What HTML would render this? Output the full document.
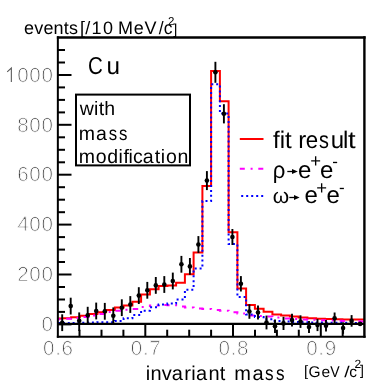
<!DOCTYPE html>
<html><head><meta charset="utf-8"><title>plot</title>
<style>
html,body{margin:0;padding:0;background:#fff;}
body{width:382px;height:388px;overflow:hidden;font-family:"Liberation Sans",sans-serif;}
svg{display:block;font-family:"Liberation Sans",sans-serif;}
.ax text{font-size:20.6px;fill:#3c3c3c;stroke:#fff;stroke-width:0.9px;letter-spacing:0.65px;}
.thin{stroke:#fff;stroke-width:0.5px;}
svg text{text-rendering:geometricPrecision;}
.bk text{fill:#000;}
</style></head><body>
<svg style="will-change:transform;filter:blur(0.3px)" width="382" height="388" viewBox="0 0 382 388">
<defs><filter id="idf" x="0" y="0" width="382" height="388" filterUnits="userSpaceOnUse"><feOffset dx="0" dy="0"/></filter></defs>
<rect width="382" height="388" fill="#fff"/>
<!-- curves -->
<path d="M58.0 318.6 L62.4 318.6 L62.4 318.2 L71.1 318.2 L71.1 317.2 L79.9 317.2 L79.9 315.8 L88.6 315.8 L88.6 314.0 L97.4 314.0 L97.4 312.2 L106.1 312.2 L106.1 310.1 L114.9 310.1 L114.9 307.4 L123.6 307.4 L123.6 305.4 L132.4 305.4 L132.4 301.7 L141.1 301.7 L141.1 294.4 L149.9 294.4 L149.9 289.3 L158.6 289.3 L158.6 286.0 L167.4 286.0 L167.4 285.5 L176.1 285.5 L176.1 282.8 L184.9 282.8 L184.9 274.3 L193.6 274.3 L193.6 252.5 L202.4 252.5 L202.4 186.1 L211.1 186.1 L211.1 70.9 L219.9 70.9 L219.9 101.3 L228.6 101.3 L228.6 232.3 L237.4 232.3 L237.4 288.4 L246.1 288.4 L246.1 305.1 L254.9 305.1 L254.9 308.8 L263.6 308.8 L263.6 311.7 L272.4 311.7 L272.4 314.5 L281.1 314.5 L281.1 315.6 L289.9 315.6 L289.9 316.6 L298.6 316.6 L298.6 317.5 L307.4 317.5 L307.4 318.2 L316.1 318.2 L316.1 318.8 L324.9 318.8 L324.9 319.1 L333.6 319.1 L333.6 319.3 L342.4 319.3 L342.4 319.4 L351.1 319.4 L351.1 319.5 L359.9 319.5 L359.9 319.5 L364.0 319.5" fill="none" stroke="#ff0000" stroke-width="2" stroke-linejoin="miter"/>
<path d="M58.0 319.2 L62.4 319.2 L62.4 318.8 L71.1 318.8 L71.1 318.1 L79.9 318.1 L79.9 317.0 L88.6 317.0 L88.6 315.6 L97.4 315.6 L97.4 313.9 L106.1 313.9 L106.1 312.1 L114.9 312.1 L114.9 310.7 L123.6 310.7 L123.6 309.8 L132.4 309.8 L132.4 308.9 L141.1 308.9 L141.1 306.9 L149.9 306.9" fill="none" stroke="#ff00ff" stroke-width="2" stroke-dasharray="5.5 5.5 2 6.1" stroke-dashoffset="10.5"/>
<path d="M149.9 306.9 L149.9 305.6 L158.6 305.6 L158.6 305.1 L167.4 305.1 L167.4 305.3 L176.1 305.3 L176.1 306.5 L184.9 306.5 L184.9 307.6 L193.6 307.6 L193.6 308.6 L202.4 308.6 L202.4 309.0 L211.1 309.0 L211.1 309.9 L219.9 309.9 L219.9 310.8 L228.6 310.8 L228.6 312.3 L237.4 312.3 L237.4 313.6 L246.1 313.6 L246.1 315.6 L254.9 315.6 L254.9 316.1 L263.6 316.1 L263.6 316.6 L272.4 316.6 L272.4 317.6 L281.1 317.6 L281.1 318.4 L289.9 318.4 L289.9 319.0 L298.6 319.0 L298.6 319.4 L307.4 319.4 L307.4 319.8 L316.1 319.8 L316.1 320.2 L324.9 320.2 L324.9 320.5 L333.6 320.5 L333.6 320.8 L342.4 320.8 L342.4 321.0 L351.1 321.0 L351.1 321.2 L359.9 321.2 L359.9 321.4 L364.0 321.4" fill="none" stroke="#ff00ff" stroke-width="2" stroke-dasharray="5.5 5.5 2 6.1" stroke-dashoffset="2.9"/>
<path d="M58.0 323.0 L62.4 323.0 L62.4 323.0 L71.1 323.0 L71.1 322.9 L79.9 322.9 L79.9 322.8 L88.6 322.8 L88.6 322.6 L97.4 322.6 L97.4 322.3 L106.1 322.3 L106.1 322.2 L114.9 322.2 L114.9 320.9 L123.6 320.9 L123.6 318.3 L132.4 318.3 L132.4 315.0 L141.1 315.0 L141.1 310.7 L149.9 310.7 L149.9 307.3 L158.6 307.3 L158.6 304.5 L167.4 304.5 L167.4 303.5 L176.1 303.5 L176.1 299.5 L184.9 299.5 L184.9 289.7 L193.6 289.7 L193.6 268.6 L202.4 268.6 L202.4 201.0 L211.1 201.0 L211.1 84.3 L219.9 84.3 L219.9 113.5 L228.6 113.5 L228.6 244.0 L237.4 244.0 L237.4 297.0 L246.1 297.0 L246.1 314.5 L254.9 314.5 L254.9 317.0 L263.6 317.0 L263.6 319.3 L272.4 319.3 L272.4 320.9 L281.1 320.9 L281.1 321.6 L289.9 321.6 L289.9 322.0 L298.6 322.0 L298.6 322.3 L307.4 322.3 L307.4 322.5 L316.1 322.5 L316.1 322.6 L324.9 322.6 L324.9 322.7 L333.6 322.7 L333.6 322.8 L342.4 322.8 L342.4 322.8 L351.1 322.8 L351.1 322.9 L359.9 322.9 L359.9 322.9 L364.0 322.9" fill="none" stroke="#0000ff" stroke-width="2" stroke-dasharray="2 2.9"/>
<!-- zero line -->
<line x1="58" y1="323.85" x2="364" y2="323.85" stroke="#000" stroke-width="2.2"/>
<!-- frame -->
<path d="M56.85 37.55H365.6" stroke="#000" stroke-width="2.4" fill="none"/><path d="M364.4 36.35V337.75" stroke="#000" stroke-width="2.4" fill="none"/><path d="M57.85 36.35V337.75" stroke="#000" stroke-width="2" fill="none"/><path d="M56.85 336.7H365.6" stroke="#000" stroke-width="2.1" fill="none"/>
<g stroke="#000" stroke-width="2"><line x1="58" y1="324.4" x2="71.5" y2="324.4"/><line x1="58" y1="311.9" x2="65.0" y2="311.9"/><line x1="58" y1="299.5" x2="65.0" y2="299.5"/><line x1="58" y1="287.0" x2="65.0" y2="287.0"/><line x1="58" y1="274.5" x2="71.5" y2="274.5"/><line x1="58" y1="262.0" x2="65.0" y2="262.0"/><line x1="58" y1="249.6" x2="65.0" y2="249.6"/><line x1="58" y1="237.1" x2="65.0" y2="237.1"/><line x1="58" y1="224.6" x2="71.5" y2="224.6"/><line x1="58" y1="212.2" x2="65.0" y2="212.2"/><line x1="58" y1="199.7" x2="65.0" y2="199.7"/><line x1="58" y1="187.2" x2="65.0" y2="187.2"/><line x1="58" y1="174.7" x2="71.5" y2="174.7"/><line x1="58" y1="162.3" x2="65.0" y2="162.3"/><line x1="58" y1="149.8" x2="65.0" y2="149.8"/><line x1="58" y1="137.3" x2="65.0" y2="137.3"/><line x1="58" y1="124.8" x2="71.5" y2="124.8"/><line x1="58" y1="112.4" x2="65.0" y2="112.4"/><line x1="58" y1="99.9" x2="65.0" y2="99.9"/><line x1="58" y1="87.4" x2="65.0" y2="87.4"/><line x1="58" y1="75.0" x2="71.5" y2="75.0"/><line x1="58" y1="62.5" x2="65.0" y2="62.5"/><line x1="58" y1="50.0" x2="65.0" y2="50.0"/><line x1="79.5" y1="336.7" x2="79.5" y2="329.7"/><line x1="101.5" y1="336.7" x2="101.5" y2="329.7"/><line x1="123.4" y1="336.7" x2="123.4" y2="329.7"/><line x1="145.3" y1="336.7" x2="145.3" y2="323.2"/><line x1="167.2" y1="336.7" x2="167.2" y2="329.7"/><line x1="189.2" y1="336.7" x2="189.2" y2="329.7"/><line x1="211.1" y1="336.7" x2="211.1" y2="329.7"/><line x1="233.0" y1="336.7" x2="233.0" y2="323.2"/><line x1="255.0" y1="336.7" x2="255.0" y2="329.7"/><line x1="276.9" y1="336.7" x2="276.9" y2="329.7"/><line x1="298.8" y1="336.7" x2="298.8" y2="329.7"/><line x1="320.8" y1="336.7" x2="320.8" y2="323.2"/><line x1="342.7" y1="336.7" x2="342.7" y2="329.7"/></g>
<!-- data -->
<g stroke="#000" stroke-width="1.9" fill="#000"><line x1="62.2" y1="314.3" x2="62.2" y2="331.1"/><circle cx="62.2" cy="322.7" r="2.3" stroke="none"/><line x1="70.7" y1="297.7" x2="70.7" y2="314.5"/><circle cx="70.7" cy="306.1" r="2.3" stroke="none"/><line x1="79.2" y1="312.4" x2="79.2" y2="331.0"/><circle cx="79.2" cy="320.8" r="2.3" stroke="none"/><line x1="87.7" y1="306.8" x2="87.7" y2="323.6"/><circle cx="87.7" cy="315.2" r="2.3" stroke="none"/><line x1="96.2" y1="302.6" x2="96.2" y2="319.4"/><circle cx="96.2" cy="311.0" r="2.3" stroke="none"/><line x1="104.8" y1="302.9" x2="104.8" y2="319.7"/><circle cx="104.8" cy="311.3" r="2.3" stroke="none"/><line x1="113.3" y1="307.4" x2="113.3" y2="324.2"/><circle cx="113.3" cy="315.8" r="2.3" stroke="none"/><line x1="121.8" y1="299.3" x2="121.8" y2="316.1"/><circle cx="121.8" cy="307.7" r="2.3" stroke="none"/><line x1="130.3" y1="296.1" x2="130.3" y2="312.9"/><circle cx="130.3" cy="304.5" r="2.3" stroke="none"/><line x1="138.8" y1="287.2" x2="138.8" y2="304.0"/><circle cx="138.8" cy="295.6" r="2.3" stroke="none"/><line x1="147.3" y1="281.9" x2="147.3" y2="298.7"/><circle cx="147.3" cy="290.3" r="2.3" stroke="none"/><line x1="155.8" y1="277.0" x2="155.8" y2="293.8"/><circle cx="155.8" cy="285.4" r="2.3" stroke="none"/><line x1="164.3" y1="276.1" x2="164.3" y2="292.9"/><circle cx="164.3" cy="284.5" r="2.3" stroke="none"/><line x1="172.8" y1="272.6" x2="172.8" y2="289.4"/><circle cx="172.8" cy="281.0" r="2.3" stroke="none"/><line x1="181.4" y1="255.9" x2="181.4" y2="272.7"/><circle cx="181.4" cy="264.3" r="2.3" stroke="none"/><line x1="189.9" y1="258.0" x2="189.9" y2="274.8"/><circle cx="189.9" cy="266.4" r="2.3" stroke="none"/><line x1="198.4" y1="236.1" x2="198.4" y2="252.9"/><circle cx="198.4" cy="244.5" r="2.3" stroke="none"/><line x1="206.9" y1="171.1" x2="206.9" y2="190.1"/><circle cx="206.9" cy="180.6" r="2.3" stroke="none"/><line x1="215.4" y1="61.8" x2="215.4" y2="82.8"/><circle cx="215.4" cy="72.3" r="2.3" stroke="none"/><line x1="223.9" y1="104.2" x2="223.9" y2="123.4"/><circle cx="223.9" cy="113.8" r="2.3" stroke="none"/><line x1="232.4" y1="229.0" x2="232.4" y2="245.0"/><circle cx="232.4" cy="237.0" r="2.3" stroke="none"/><line x1="240.9" y1="276.1" x2="240.9" y2="291.5"/><circle cx="240.9" cy="283.8" r="2.3" stroke="none"/><line x1="249.4" y1="304.2" x2="249.4" y2="318.8"/><circle cx="249.4" cy="311.5" r="2.3" stroke="none"/><line x1="258.0" y1="305.4" x2="258.0" y2="319.6"/><circle cx="258.0" cy="312.5" r="2.3" stroke="none"/><line x1="266.5" y1="315.6" x2="266.5" y2="329.4"/><circle cx="266.5" cy="322.5" r="2.3" stroke="none"/><line x1="275.0" y1="319.5" x2="275.0" y2="333.1"/><circle cx="275.0" cy="326.3" r="2.3" stroke="none"/><line x1="283.5" y1="316.8" x2="283.5" y2="330.0"/><circle cx="283.5" cy="323.4" r="2.3" stroke="none"/><line x1="292.0" y1="313.7" x2="292.0" y2="326.5"/><circle cx="292.0" cy="320.1" r="2.3" stroke="none"/><line x1="300.5" y1="315.3" x2="300.5" y2="327.9"/><circle cx="300.5" cy="321.6" r="2.3" stroke="none"/><line x1="309.0" y1="320.9" x2="309.0" y2="333.1"/><circle cx="309.0" cy="327.0" r="2.3" stroke="none"/><line x1="317.5" y1="319.1" x2="317.5" y2="331.1"/><circle cx="317.5" cy="325.1" r="2.3" stroke="none"/><line x1="326.0" y1="319.9" x2="326.0" y2="331.5"/><circle cx="326.0" cy="325.7" r="2.3" stroke="none"/><line x1="334.6" y1="312.5" x2="334.6" y2="323.9"/><circle cx="334.6" cy="318.2" r="2.3" stroke="none"/><line x1="343.1" y1="322.4" x2="343.1" y2="333.8"/><circle cx="343.1" cy="328.1" r="2.3" stroke="none"/><line x1="351.6" y1="315.1" x2="351.6" y2="326.7"/><circle cx="351.6" cy="320.9" r="2.3" stroke="none"/><circle cx="360.1" cy="323.9" r="2.3" stroke="none"/></g>
<!-- legend -->
<line x1="239.8" y1="139" x2="263.5" y2="139" stroke="#ff0000" stroke-width="2"/>
<line x1="239.8" y1="168.8" x2="263.4" y2="168.8" stroke="#ff00ff" stroke-width="2" stroke-dasharray="5 5.8 2 5.7"/>
<line x1="241.2" y1="196.1" x2="263.4" y2="196.1" stroke="#0000ff" stroke-width="2" stroke-dasharray="2 3"/>
<g class="bk" filter="url(#idf)">
<text x="273" y="148.2" font-size="24">fit r</text><text x="305.7" y="148.2" font-size="24" textLength="12.4" lengthAdjust="spacingAndGlyphs">e</text><text x="319" y="148.2" font-size="24" textLength="9.9" lengthAdjust="spacingAndGlyphs">s</text><text x="330.7" y="148.2" font-size="24">u</text><text x="343" y="148.2" font-size="24">l</text><text x="348.1" y="148.2" font-size="24" textLength="7.6" lengthAdjust="spacingAndGlyphs">t</text>
<text x="272.8" y="177.7" font-size="23.5" textLength="12.6" lengthAdjust="spacingAndGlyphs">ρ</text>
<text x="298" y="177.7" font-size="24">e</text>
<text x="320" y="177.7" font-size="24">e</text>
<text x="310.2" y="166.9" font-size="18.5">+</text>
<text x="332.3" y="166.9" font-size="17">-</text>
<path d="M287.3 171.5H293" stroke="#000" stroke-width="1.3" fill="none"/><path d="M292 168.9L297.8 171.5L292 174.1Z" fill="#000"/>
<text x="272.8" y="203.1" font-size="21">ω</text>
<text x="304.6" y="203.2" font-size="24">e</text>
<text x="326.6" y="203.2" font-size="24">e</text>
<text x="316.2" y="193.6" font-size="18.5">+</text>
<text x="338.9" y="192.7" font-size="17">-</text>
<path d="M289.3 197.5H295" stroke="#000" stroke-width="1.3" fill="none"/><path d="M294 194.9L299.6 197.5L294 200.1Z" fill="#000"/>
<!-- title -->
<text x="24" y="33.7" font-size="18" textLength="54" lengthAdjust="spacing">events</text>
<text x="80.1" y="33.7" font-size="18">[</text><text x="85.3" y="33.7" font-size="18" textLength="27.6" lengthAdjust="spacing">/10</text><text x="118" y="33.7" font-size="18" textLength="38.5" lengthAdjust="spacing">MeV</text><text x="158.8" y="33.7" font-size="18" textLength="13.6" lengthAdjust="spacingAndGlyphs">/c</text>
<text x="168" y="24.5" font-size="11.5">2</text>
<text x="173.2" y="33.6" font-size="14.5">]</text>
<text x="87.9" y="73.5" font-size="24.5" textLength="14.8" lengthAdjust="spacingAndGlyphs">C</text><text x="106.6" y="73.5" font-size="24.3">u</text>
<text x="79.8" y="115.3" font-size="19.5" textLength="35.4" lengthAdjust="spacing">with</text>
<text x="78.8" y="139.6" font-size="19.5">m</text><text x="96" y="139.6" font-size="19.5">a</text><text x="108.7" y="139.6" font-size="19.5" textLength="8.4" lengthAdjust="spacingAndGlyphs">s</text><text x="118.9" y="139.6" font-size="19.5" textLength="8.4" lengthAdjust="spacingAndGlyphs">s</text>
<text x="78.8" y="163.1" font-size="19.5" textLength="50.2" lengthAdjust="spacing">modif</text><text x="128.6" y="163.1" font-size="19.5">ica</text><text x="154.7" y="163.1" font-size="19.5" textLength="33.6" lengthAdjust="spacing">tion</text>
<text x="145.8" y="380" font-size="20" textLength="37.1" lengthAdjust="spacing">inva</text><text x="184.3" y="380" font-size="20" textLength="22.9" lengthAdjust="spacing">ria</text><text x="208.6" y="380" font-size="20">nt</text>
<text x="234.2" y="380" font-size="20">m</text><text x="252.6" y="380" font-size="20">a</text><text x="265.1" y="380" font-size="20" textLength="8.6" lengthAdjust="spacingAndGlyphs">s</text><text x="276" y="380" font-size="20" textLength="8.6" lengthAdjust="spacingAndGlyphs">s</text>
<text x="304.1" y="375.6" font-size="15">[</text><text x="308.6" y="376.7" font-size="15.5">G</text><text x="321.4" y="376.7" font-size="15.5">e</text><text x="330.2" y="376.7" font-size="15.5" textLength="9.4" lengthAdjust="spacingAndGlyphs">V</text><text x="344.2" y="376.7" font-size="15.5" textLength="5.4" lengthAdjust="spacingAndGlyphs">/</text><text x="349.2" y="376.7" font-size="15.5">c</text>
<text x="354.6" y="368.1" font-size="12">2</text>
<text x="359.9" y="375.2" font-size="14">]</text>
</g>
<rect x="76" y="94.6" width="114" height="70.8" fill="none" stroke="#000" stroke-width="2"/>
<g class="ax" filter="url(#idf)"><text x="53.5" y="331.1" text-anchor="end">0</text><text x="53.5" y="281.2" text-anchor="end">200</text><text x="53.5" y="231.3" text-anchor="end">400</text><text x="53.5" y="181.4" text-anchor="end">600</text><text x="53.5" y="131.5" text-anchor="end">800</text><text x="53.5" y="81.7" text-anchor="end">000</text><path d="M7.2 71.9L11.35 68.1V81.9" fill="none" stroke="#5a5a5a" stroke-width="1.1" stroke-linejoin="miter"/><text x="58.4" y="354.8" text-anchor="middle">0.6</text><text x="146.1" y="354.8" text-anchor="middle">0.7</text><text x="233.8" y="354.8" text-anchor="middle">0.8</text><text x="321.5" y="354.8" text-anchor="middle">0.9</text></g>
</svg>
</body></html>
